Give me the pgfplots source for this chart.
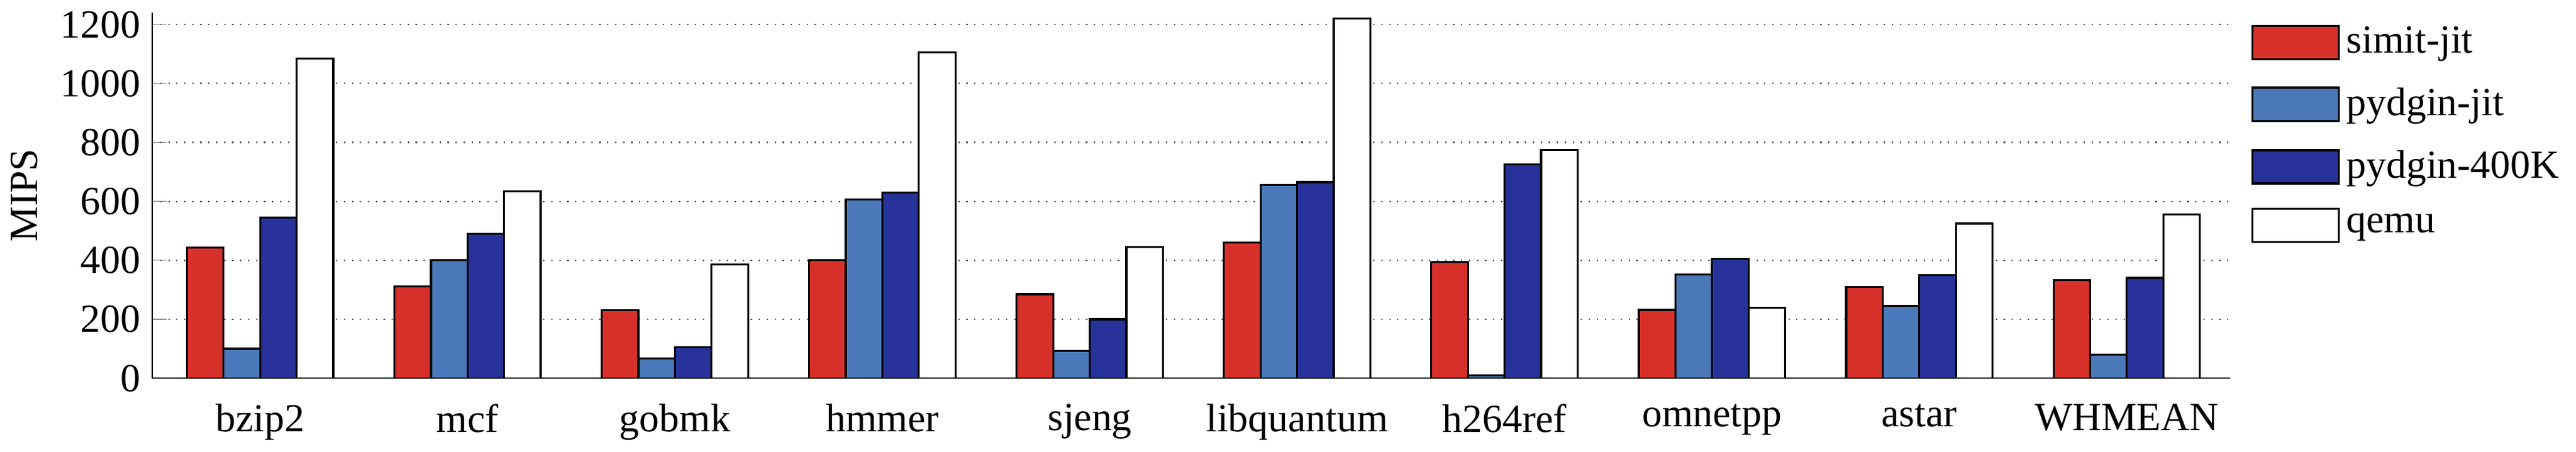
\documentclass[border=0pt]{standalone}
\usepackage{pgfplots}
\pgfplotsset{compat=1.18}
\usepackage{fontspec}
\setmainfont{Liberation Serif}
\definecolor{cred}{HTML}{D7302A}
\definecolor{clb}{HTML}{4A78B8}
\definecolor{cdb}{HTML}{27339A}
\begin{document}
\begin{tikzpicture}
\begin{axis}[
  scale only axis, width=625pt, height=110pt,
  ybar=0pt, bar width=11pt,
  xmin=-0.52, xmax=9.5, ymin=0, ymax=1240,
  axis lines*=left, axis line style={-},
  xtick={0,...,9}, xtick style={draw=none},
  xticklabels={bzip2,mcf,gobmk,hmmer,sjeng,libquantum,h264ref,omnetpp,astar,WHMEAN},
  ytick={0,200,...,1200},
  yticklabel style={/pgf/number format/1000 sep={}},
  ymajorgrids, grid style={dotted,black!70},
  /pgf/number format/assume math mode=true,
  tick label style={font=\large},
  ylabel={MIPS}, ylabel style={font=\large},
  legend style={at={(1.005,1)}, anchor=north west, draw=none, font=\large, row sep=5pt,
    legend cell align=left},
  legend image code/.code={\draw[#1] (0cm,-5pt) rectangle (26pt,5pt);},
  every axis plot/.append style={draw=black, line width=0.6pt},
]
\addplot[fill=cred] coordinates {(0,443)(1,312)(2,230)(3,400)(4,285)(5,460)(6,395)(7,232)(8,310)(9,332)};
\addplot[fill=clb] coordinates {(0,100)(1,400)(2,68)(3,607)(4,92)(5,655)(6,10)(7,352)(8,245)(9,80)};
\addplot[fill=cdb] coordinates {(0,545)(1,490)(2,105)(3,630)(4,200)(5,665)(6,725)(7,405)(8,350)(9,340)};
\addplot[fill=white] coordinates {(0,1085)(1,635)(2,385)(3,1105)(4,445)(5,1220)(6,775)(7,240)(8,525)(9,555)};
\legend{simit-jit,pydgin-jit,pydgin-400K,qemu}
\end{axis}
\end{tikzpicture}
\end{document}
